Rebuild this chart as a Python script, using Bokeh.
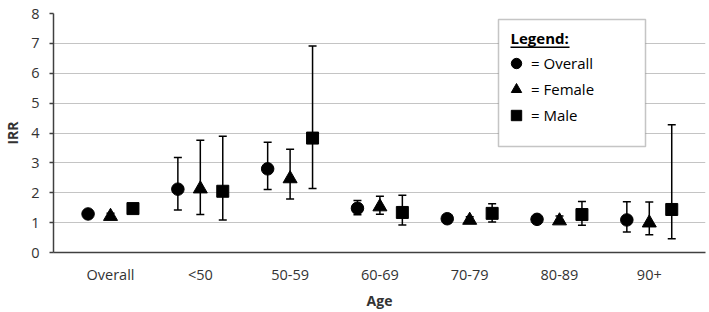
import numpy as np
from bokeh.plotting import figure
from bokeh.models import (ColumnDataSource, FixedTicker, Whisker, TeeHead, Legend,
                          LegendItem, BoxAnnotation, Range1d, Label)
from bokeh.embed import file_html
from bokeh.resources import INLINE

categories = ["Overall", "<50", "50-59", "60-69", "70-79", "80-89", "90+"]

overall_irr = [1.29, 2.12, 2.80, 1.48, 1.13, 1.11, 1.09]
overall_lo = [1.24, 1.42, 2.11, 1.26, 1.08, 1.06, 0.69]
overall_hi = [1.35, 3.18, 3.69, 1.74, 1.19, 1.16, 1.70]

female_irr = [1.21, 2.13, 2.47, 1.53, 1.08, 1.06, 0.99]
female_lo = [1.13, 1.27, 1.79, 1.28, 1.01, 0.99, 0.59]
female_hi = [1.31, 3.76, 3.46, 1.88, 1.20, 1.22, 1.69]

male_irr = [1.47, 2.05, 3.83, 1.34, 1.31, 1.27, 1.44]
male_lo = [1.38, 1.09, 2.14, 0.92, 1.02, 0.91, 0.46]
male_hi = [1.57, 3.89, 6.91, 1.92, 1.63, 1.71, 4.28]

y_ticks = [0, 1, 2, 3, 4, 5, 6, 7, 8]

FONT = "Open Sans"
TXT = "#333333"

p = figure(width=709, height=312, output_backend="svg", toolbar_location=None,
           x_range=Range1d(-0.635, 6.626), y_range=Range1d(0, 8),
           min_border_left=53, min_border_right=4, min_border_top=13, min_border_bottom=58)
p.outline_line_color = None
p.background_fill_color = "white"
p.border_fill_color = "white"

p.xgrid.grid_line_color = None
p.ygrid.grid_line_color = "#c4c4c4"
p.ygrid.grid_line_width = 1.2
p.ygrid.ticker = FixedTicker(ticks=y_ticks)

p.yaxis.ticker = FixedTicker(ticks=y_ticks)
p.yaxis.minor_tick_line_color = None
p.yaxis.major_tick_out = 4
p.yaxis.major_tick_in = 0
p.yaxis.major_tick_line_color = "#404040"
p.yaxis.major_tick_line_width = 1.5
p.yaxis.axis_line_color = "#404040"
p.yaxis.axis_line_width = 1.5
p.yaxis.major_label_standoff = 10
p.yaxis.major_label_text_font = FONT
p.yaxis.major_label_text_font_size = "14.5px"
p.yaxis.major_label_text_color = TXT
p.yaxis.axis_label = "IRR"
p.yaxis.axis_label_text_font = FONT
p.yaxis.axis_label_text_font_size = "14px"
p.yaxis.axis_label_text_font_style = "bold"
p.yaxis.axis_label_text_color = TXT
p.yaxis.axis_label_standoff = 6

p.xaxis.ticker = FixedTicker(ticks=list(range(len(categories))))
p.xaxis.major_label_overrides = {i: c for i, c in enumerate(categories)}
p.xaxis.minor_tick_line_color = None
p.xaxis.major_tick_line_color = None
p.xaxis.major_tick_out = 0
p.xaxis.major_tick_in = 0
p.xaxis.axis_line_color = "#404040"
p.xaxis.axis_line_width = 1.5
p.xaxis.major_label_standoff = 12
p.xaxis.major_label_text_font = FONT
p.xaxis.major_label_text_font_size = "14.5px"
p.xaxis.major_label_text_color = TXT
p.xaxis.axis_label = "Age"
p.xaxis.axis_label_text_font = FONT
p.xaxis.axis_label_text_font_size = "14px"
p.xaxis.axis_label_text_font_style = "bold"
p.xaxis.axis_label_text_color = TXT
p.xaxis.axis_label_standoff = 4

idx = np.arange(len(categories))
offset = 0.25
series = [
    ("= Overall", "circle", 12.5, -offset, overall_irr, overall_lo, overall_hi),
    ("= Female", "triangle", 14, 0.0, female_irr, female_lo, female_hi),
    ("= Male", "square", 12, offset, male_irr, male_lo, male_hi),
]

items = []
for label, marker, size, off, vals, lo, hi in series:
    src = ColumnDataSource(dict(x=idx + off, y=vals, lo=lo, hi=hi))
    w = Whisker(source=src, base="x", upper="hi", lower="lo", dimension="height",
                line_color="black", line_width=1.5,
                upper_head=TeeHead(size=8, line_color="black", line_width=1.5),
                lower_head=TeeHead(size=8, line_color="black", line_width=1.5))
    p.add_layout(w)
    r = p.scatter("x", "y", source=src, marker=marker, size=size,
                  fill_color="black", line_color="black")
    items.append(LegendItem(label=label, renderers=[r]))

# legend frame
box = BoxAnnotation(left=498, right=645, top=19, bottom=146,
                    left_units="canvas", right_units="canvas",
                    top_units="canvas", bottom_units="canvas",
                    fill_color="white", fill_alpha=1.0,
                    line_color="#404040", line_width=1.5)
p.add_layout(box)

title = Label(x=510, y=37, x_units="canvas", y_units="canvas", text="Legend:",
              text_font=FONT, text_font_size="15px", text_font_style="bold",
              text_color="black", text_baseline="middle", text_align="left")
p.add_layout(title)
underline = BoxAnnotation(left=510, right=569, top=46, bottom=47.5,
                          left_units="canvas", right_units="canvas",
                          top_units="canvas", bottom_units="canvas",
                          fill_color="black", fill_alpha=1.0, line_color=None)
p.add_layout(underline)

legend = Legend(items=items, location=(450, 124), orientation="vertical",
                glyph_width=26, glyph_height=26, label_standoff=2, spacing=0,
                padding=0, margin=0, border_line_color=None,
                background_fill_alpha=0, label_text_font=FONT,
                label_text_font_size="15px", label_text_color="black",
                label_height=26)
p.add_layout(legend)

open("out.html", "w").write(file_html(p, INLINE))
